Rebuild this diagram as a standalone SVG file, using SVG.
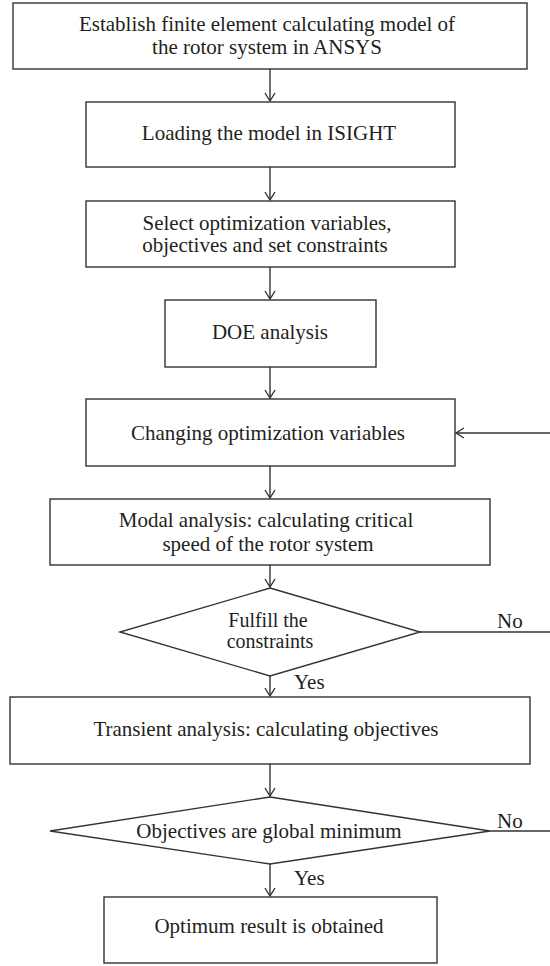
<svg xmlns="http://www.w3.org/2000/svg" width="550" height="966" viewBox="0 0 550 966">
  <defs>
    <style>
      .box { fill: #ffffff; stroke: #333333; stroke-width: 1.4; }
      .conn { fill: none; stroke: #333333; stroke-width: 1.4; }
      .t { font-family: "Liberation Serif", "Times New Roman", serif; font-size: 21px; fill: #231f20; text-anchor: middle; }
      .td { font-family: "Liberation Serif", "Times New Roman", serif; font-size: 20px; fill: #231f20; text-anchor: middle; }
      .lbl { font-family: "Liberation Serif", "Times New Roman", serif; font-size: 21px; fill: #231f20; }
    </style>
    <marker id="arr" viewBox="-10 -7 12 14" markerWidth="12" markerHeight="14" refX="0" refY="0" orient="auto" markerUnits="userSpaceOnUse">
      <path d="M -8,-5 L 0,0 L -8,5" fill="none" stroke="#333333" stroke-width="1.4"/>
    </marker>
  </defs>
  <rect width="550" height="966" fill="#ffffff"/>

  <g id="connectors">
    <line class="conn" x1="270" y1="69" x2="270" y2="101" marker-end="url(#arr)"/>
    <line class="conn" x1="270" y1="167" x2="270" y2="200" marker-end="url(#arr)"/>
    <line class="conn" x1="270" y1="267" x2="270" y2="299" marker-end="url(#arr)"/>
    <line class="conn" x1="270" y1="367" x2="270" y2="398" marker-end="url(#arr)"/>
    <line class="conn" x1="550" y1="433" x2="456" y2="433" marker-end="url(#arr)"/>
    <line class="conn" x1="270" y1="466" x2="270" y2="498" marker-end="url(#arr)"/>
    <line class="conn" x1="270" y1="565" x2="270" y2="587" marker-end="url(#arr)"/>
    <line class="conn" x1="420" y1="632" x2="550" y2="632"/>
    <line class="conn" x1="270" y1="676" x2="270" y2="696" marker-end="url(#arr)"/>
    <line class="conn" x1="270" y1="764" x2="270" y2="796" marker-end="url(#arr)"/>
    <line class="conn" x1="490" y1="831" x2="550" y2="831"/>
    <line class="conn" x1="270" y1="864" x2="270" y2="896" marker-end="url(#arr)"/>
    <text class="lbl" x="497" y="628">No</text>
    <text class="lbl" x="294" y="689">Yes</text>
    <text class="lbl" x="497" y="828">No</text>
    <text class="lbl" x="294" y="885">Yes</text>
  </g>

  <g id="n1">
    <rect class="box" x="13" y="3" width="514" height="66"/>
    <text class="t" x="267" y="31">Establish finite element calculating model of</text>
    <text class="t" x="267" y="54">the rotor system in ANSYS</text>
  </g>
  <g id="n2">
    <rect class="box" x="86" y="102" width="369" height="65"/>
    <text class="t" x="269" y="140">Loading the model in ISIGHT</text>
  </g>
  <g id="n3">
    <rect class="box" x="86" y="201" width="369" height="66"/>
    <text class="t" x="267" y="230">Select optimization variables,</text>
    <text class="t" x="265" y="252">objectives and set constraints</text>
  </g>
  <g id="n4">
    <rect class="box" x="165" y="300" width="211" height="67"/>
    <text class="t" x="270" y="339">DOE analysis</text>
  </g>
  <g id="n5">
    <rect class="box" x="86" y="399" width="369" height="67"/>
    <text class="t" x="268" y="440">Changing optimization variables</text>
  </g>
  <g id="n6">
    <rect class="box" x="50" y="499" width="440" height="66"/>
    <text class="t" x="266" y="527">Modal analysis: calculating critical</text>
    <text class="t" x="268" y="551">speed of the rotor system</text>
  </g>
  <g id="d1">
    <polygon class="box" points="270,588 420,632 270,676 120,632"/>
    <text class="td" x="268" y="627">Fulfill the</text>
    <text class="td" x="270" y="648">constraints</text>
  </g>
  <g id="n7">
    <rect class="box" x="10" y="697" width="520" height="67"/>
    <text class="t" x="266" y="736">Transient analysis: calculating objectives</text>
  </g>
  <g id="d2">
    <polygon class="box" points="270,797 490,831 270,864 50,831"/>
    <text class="t" x="269" y="838">Objectives are global minimum</text>
  </g>
  <g id="n8">
    <rect class="box" x="104" y="897" width="333" height="66"/>
    <text class="t" x="269" y="933">Optimum result is obtained</text>
  </g>
</svg>
